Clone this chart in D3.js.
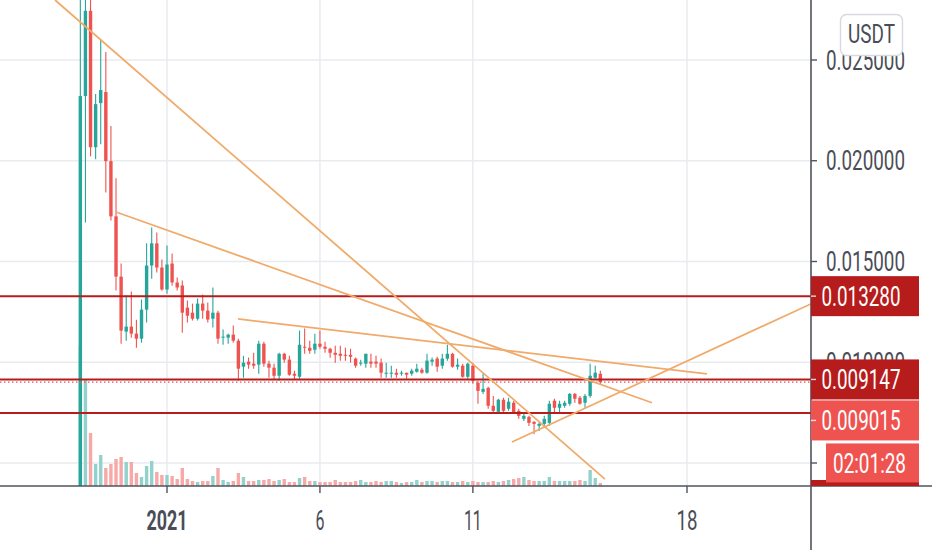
<!DOCTYPE html>
<html><head><meta charset="utf-8">
<script src="https://cdn.jsdelivr.net/npm/d3@7"></script>
<style>html,body{margin:0;padding:0;background:#fff;overflow:hidden}svg{display:block;font-family:Roboto,"Noto Sans",sans-serif}</style>
</head><body><svg id="c" width="932" height="550"></svg>
<script>
// ---- data (4h candles, USDT) ----
const startTime = Date.UTC(2020, 11, 29, 4);
const barHours = 4;
const opens = [0.0030,0.02321,0.02744,0.02067,0.02286,0.02341,0.01998,0.01724,0.01425,0.01152,
0.01177,0.01142,0.01117,0.01261,0.01480,0.01590,0.01470,0.01361,0.01490,0.01396,
0.01381,0.01271,0.01246,0.01216,0.01291,0.01256,0.01216,0.01246,0.01122,0.01122,
0.01137,0.01107,0.00978,0.01003,0.00993,0.00988,0.01092,0.00993,0.00973,0.00933,
0.01042,0.01013,0.00943,0.00928,0.01077,0.01072,0.01062,0.01092,0.01077,0.01067,
0.01047,0.01042,0.01037,0.01037,0.01018,0.00993,0.00993,0.01003,0.01003,0.00998,
0.00943,0.00943,0.00948,0.00943,0.00948,0.00943,0.00953,0.00963,0.00948,0.01003,
0.01018,0.00983,0.01018,0.01042,0.00978,0.00983,0.00928,0.00983,0.00898,0.00853,
0.00873,0.00784,0.00754,0.00814,0.00769,0.00799,0.00759,0.00719,0.00729,0.00704,
0.00684,0.00694,0.00699,0.00809,0.00774,0.00784,0.00794,0.00843,0.00824,0.00799,
0.00833,0.00923,0.00943];
const highs = [0.0282,0.0291,0.0286,0.02331,0.02600,0.02540,0.02172,0.01913,0.01490,0.01331,
0.01351,0.01211,0.01311,0.01590,0.01669,0.01644,0.01510,0.01580,0.01540,0.01420,
0.01406,0.01306,0.01291,0.01316,0.01336,0.01296,0.01371,0.01256,0.01162,0.01142,
0.01182,0.01117,0.01032,0.01023,0.01047,0.01107,0.01102,0.01008,0.00993,0.01047,
0.01047,0.01032,0.00958,0.01157,0.01167,0.01107,0.01142,0.01157,0.01102,0.01072,
0.01082,0.01082,0.01072,0.01067,0.01023,0.01013,0.01042,0.01042,0.01032,0.01018,
0.00998,0.00983,0.00968,0.00958,0.00948,0.00968,0.00993,0.00973,0.01042,0.01023,
0.01027,0.01042,0.01087,0.01047,0.01018,0.00993,0.00998,0.00998,0.00908,0.00943,
0.00878,0.00833,0.00819,0.00824,0.00824,0.00809,0.00769,0.00744,0.00734,0.00709,
0.00704,0.00734,0.00809,0.00819,0.00809,0.00809,0.00848,0.00848,0.00833,0.00843,
0.00993,0.00983,0.00958];
const lows = [0.0028,0.01694,0.02022,0.02007,0.02082,0.01843,0.01704,0.01356,0.01092,0.01107,
0.01122,0.01072,0.01097,0.01197,0.01415,0.01445,0.01355,0.01340,0.01380,0.01356,
0.01147,0.01197,0.01207,0.01207,0.01216,0.01197,0.01172,0.01092,0.01087,0.01092,
0.01097,0.00908,0.00923,0.00968,0.00968,0.00943,0.00978,0.00923,0.00913,0.00908,
0.00998,0.00933,0.00913,0.00918,0.01042,0.01042,0.01042,0.01067,0.01047,0.01022,
0.00998,0.01008,0.01008,0.00998,0.00973,0.00983,0.00973,0.00973,0.00973,0.00923,
0.00923,0.00923,0.00923,0.00933,0.00918,0.00933,0.00948,0.00943,0.00943,0.00983,
0.00953,0.00968,0.01008,0.00973,0.00963,0.00923,0.00918,0.00893,0.00794,0.00843,
0.00769,0.00749,0.00744,0.00749,0.00759,0.00744,0.00719,0.00709,0.00684,0.00644,
0.00659,0.00674,0.00684,0.00744,0.00749,0.00774,0.00784,0.00799,0.00789,0.00774,
0.00824,0.00918,0.00888];
const closes = [0.02321,0.02744,0.02067,0.02281,0.02351,0.01998,0.01724,0.01425,0.01157,0.01177,
0.01142,0.01117,0.01261,0.01480,0.01590,0.01470,0.01361,0.01485,0.01396,0.01371,
0.01246,0.01231,0.01216,0.01291,0.01256,0.01212,0.01246,0.01117,0.01127,0.01137,
0.01107,0.00968,0.00998,0.00988,0.00983,0.01092,0.00993,0.00973,0.00933,0.01042,
0.01013,0.00938,0.00933,0.01087,0.01072,0.01057,0.01092,0.01077,0.01067,0.01047,
0.01037,0.01032,0.01032,0.01027,0.00983,0.00998,0.01042,0.00993,0.00993,0.00948,
0.00948,0.00948,0.00938,0.00948,0.00938,0.00958,0.00968,0.00948,0.01008,0.01013,
0.00978,0.01018,0.01042,0.00978,0.00988,0.00928,0.00993,0.00908,0.00858,0.00868,
0.00784,0.00759,0.00814,0.00759,0.00804,0.00749,0.00734,0.00734,0.00699,0.00694,
0.00694,0.00719,0.00794,0.00774,0.00794,0.00799,0.00843,0.00819,0.00794,0.00833,
0.00933,0.00948,0.009015];
const volumes = [140,107,53,22,31,18,22,27,29,24,
24,13,9,20,25,14,11,11,10,7,
18,7,5,4,5,5,10,18,6,4,
5,13,9,5,5,6,6,7,5,6,
7,4,4,8,9,5,5,4,4,4,
6,4,4,4,5,6,4,4,5,4,
5,5,4,3,4,4,6,4,5,5,
4,5,5,4,4,5,4,5,4,4,
4,5,4,5,6,7,8,9,6,5,
5,5,9,5,5,5,5,5,6,5,
16,8,3];
const priceTicks = [0.025, 0.020, 0.015, 0.010, 0.005];
const priceTickLabels = ["0.025000","0.020000","0.015000","0.010000",""];
const timeTicks = ["2021-01-01T00:00:00Z","2021-01-06T00:00:00Z","2021-01-11T00:00:00Z","2021-01-18T00:00:00Z"];
const timeTickLabels = ["2021","6","11","18"];
const hLevels = [0.013280, 0.009147, 0.007482];
const lastPrice = 0.009015;
const countdown = "02:01:28";
const currency = "USDT";
const trendLines = [
  [["2020-12-28T08:08:00Z", 0.02798], ["2021-01-15T07:38:00Z", 0.00420]],
  [["2020-12-30T08:00:00Z", 0.017457], ["2021-01-16T20:31:00Z", 0.00799]],
  [["2021-01-03T07:42:00Z", 0.01215], ["2021-01-18T15:40:00Z", 0.00942]],
  [["2021-01-12T06:40:00Z", 0.00604], ["2021-01-22T13:02:00Z", 0.01324]]
];

// ---- layout ----
const W = 932, H = 550, paneW = 811, paneH = 486;
const UP = "#26a69a", DOWN = "#ef5350";
const UPV = "#93d2cc", DOWNV = "#f7a9a8";
const LINE_RED = "#b71c1c", TREND = "#f0aa6a", TXT = "#4a4d57", AXIS = "#50535e", GRID = "#e8ebf0";

const svg = d3.select("#c");
const bars = opens.map((o, i) => ({
  t: new Date(startTime + i * barHours * 3600e3), o, h: highs[i], l: lows[i], c: closes[i], v: volumes[i]
}));

const x = d3.scaleUtc().domain([new Date(timeTicks[0]), new Date(timeTicks[3])]).range([167, 687]);
const y = d3.scaleLinear().domain([0.005, 0.025]).range([463, 60]);
const yv = d3.scaleLinear().domain([0, 100]).range([paneH, paneH - 100]);

svg.append("defs").append("clipPath").attr("id", "pane")
  .append("rect").attr("x", 0).attr("y", 0).attr("width", paneW).attr("height", paneH);

// grid
const grid = svg.append("g");
grid.selectAll("line.h").data(priceTicks).join("line")
  .attr("x1", 0).attr("x2", paneW).attr("y1", d => y(d)).attr("y2", d => y(d))
  .attr("stroke", GRID).attr("stroke-width", 1.5);
grid.selectAll("line.v").data(timeTicks).join("line")
  .attr("x1", d => x(new Date(d))).attr("x2", d => x(new Date(d))).attr("y1", 0).attr("y2", paneH)
  .attr("stroke", GRID).attr("stroke-width", 1.5);

const plot = svg.append("g").attr("clip-path", "url(#pane)");
const bw = 3.4;
// volume
plot.selectAll("rect.vol").data(bars).join("rect")
  .attr("x", d => x(d.t) - bw / 2).attr("width", bw)
  .attr("y", d => yv(d.v)).attr("height", d => yv(0) - yv(d.v))
  .attr("fill", d => d.c >= d.o ? UPV : DOWNV);

// candles
plot.selectAll("line.wick").data(bars).join("line")
  .attr("x1", d => x(d.t)).attr("x2", d => x(d.t))
  .attr("y1", d => y(d.h)).attr("y2", d => y(d.l))
  .attr("stroke", d => d.c >= d.o ? UP : DOWN).attr("stroke-width", 1.1);
plot.selectAll("rect.body").data(bars).join("rect")
  .attr("x", d => x(d.t) - bw / 2).attr("width", bw)
  .attr("y", d => y(Math.max(d.o, d.c)))
  .attr("height", d => Math.max(1, Math.abs(y(d.o) - y(d.c))))
  .attr("fill", d => d.c >= d.o ? UP : DOWN);

// horizontal levels
plot.selectAll("line.lvl").data(hLevels).join("line")
  .attr("x1", 0).attr("x2", paneW).attr("y1", d => y(d)).attr("y2", d => y(d))
  .attr("stroke", LINE_RED).attr("stroke-width", 2);
plot.append("line").attr("x1", 0).attr("x2", paneW).attr("y1", y(lastPrice)).attr("y2", y(lastPrice))
  .attr("stroke", DOWN).attr("stroke-width", 1.2).attr("stroke-dasharray", "1.5,2.5");

// trend lines
plot.selectAll("line.trend").data(trendLines).join("line")
  .attr("x1", d => x(new Date(d[0][0]))).attr("y1", d => y(d[0][1]))
  .attr("x2", d => x(new Date(d[1][0]))).attr("y2", d => y(d[1][1]))
  .attr("stroke", TREND).attr("stroke-width", 1.8);

// axes lines
svg.append("line").attr("x1", 0).attr("x2", W).attr("y1", paneH).attr("y2", paneH).attr("stroke", AXIS).attr("stroke-width", 1.6);
svg.append("line").attr("x1", paneW).attr("x2", paneW).attr("y1", 0).attr("y2", H).attr("stroke", AXIS).attr("stroke-width", 1.6);

// price axis ticks + labels
const pa = svg.append("g");
pa.selectAll("line").data(priceTicks).join("line")
  .attr("x1", paneW).attr("x2", paneW + 6).attr("y1", d => y(d)).attr("y2", d => y(d))
  .attr("stroke", AXIS).attr("stroke-width", 1.4);
pa.selectAll("text").data(priceTicks).join("text")
  .attr("x", 826).attr("y", d => y(d)).attr("dy", "0.36em")
  .attr("font-size", 27).attr("fill", TXT)
  .attr("textLength", d => priceTickLabels[priceTicks.indexOf(d)] ? 79 : null)
  .attr("lengthAdjust", "spacingAndGlyphs")
  .text((d, i) => priceTickLabels[i]);

// time axis
const ta = svg.append("g");
ta.selectAll("line").data(timeTicks).join("line")
  .attr("x1", d => x(new Date(d))).attr("x2", d => x(new Date(d))).attr("y1", paneH).attr("y2", paneH + 7)
  .attr("stroke", AXIS).attr("stroke-width", 1.4);
const tlw = [41, 9, 18, 21];
ta.selectAll("text").data(timeTicks).join("text")
  .attr("x", d => x(new Date(d))).attr("y", 530).attr("text-anchor", "middle")
  .attr("font-size", 27).attr("fill", TXT)
  .attr("font-weight", (d, i) => i === 0 ? "bold" : "normal")
  .attr("textLength", (d, i) => tlw[i]).attr("lengthAdjust", "spacingAndGlyphs")
  .text((d, i) => timeTickLabels[i]);

// price labels (boxes)
const boxH = 40, boxX = paneW, boxW = 108;
function label(cy, text, fill, x0 = boxX, w = boxW, tl = 79) {
  svg.append("rect").attr("x", x0).attr("y", cy - boxH / 2).attr("width", w).attr("height", boxH).attr("fill", fill);
  svg.append("text").attr("x", x0 + w / 2 + (x0 === boxX ? -4 : 0)).attr("y", cy).attr("dy", "0.36em")
    .attr("text-anchor", "middle").attr("font-size", 27).attr("fill", "#fff")
    .attr("textLength", tl).attr("lengthAdjust", "spacingAndGlyphs").text(text);
}
// hidden third-level label peeking at the bottom
svg.append("rect").attr("x", boxX).attr("y", 480).attr("width", boxW).attr("height", paneH - 480).attr("fill", LINE_RED);
label(y(hLevels[0]), d3.format(".6f")(hLevels[0]), LINE_RED);
const c1 = y(hLevels[1]);
label(c1, d3.format(".6f")(hLevels[1]), LINE_RED);
const c2 = c1 + boxH + 1;
label(c2, d3.format(".6f")(lastPrice), DOWN);
const c3 = c2 + boxH + 3;
svg.append("rect").attr("x", 826).attr("y", c3 - 20).attr("width", 93).attr("height", 39).attr("fill", DOWN);
svg.append("text").attr("x", 869.5).attr("y", c3 - 0.5).attr("dy", "0.36em").attr("text-anchor", "middle")
  .attr("font-size", 27).attr("fill", "#fff").attr("textLength", 73).attr("lengthAdjust", "spacingAndGlyphs").text(countdown);
// small ticks over labels
svg.selectAll("line.lt").data([y(hLevels[0]), c1, c2]).join("line")
  .attr("x1", paneW).attr("x2", paneW + 5).attr("y1", d => d).attr("y2", d => d)
  .attr("stroke", "#fff").attr("stroke-width", 1.4).attr("opacity", 0.8);

// currency button
svg.append("rect").attr("x", 840.5).attr("y", 14.5).attr("width", 62).attr("height", 41).attr("rx", 6)
  .attr("fill", "#fff").attr("stroke", "#d6d9df").attr("stroke-width", 1.4);
svg.append("text").attr("x", 871.5).attr("y", 43).attr("text-anchor", "middle").attr("font-size", 25)
  .attr("fill", TXT).attr("textLength", 47).attr("lengthAdjust", "spacingAndGlyphs").text(currency);
</script>
</body></html>
